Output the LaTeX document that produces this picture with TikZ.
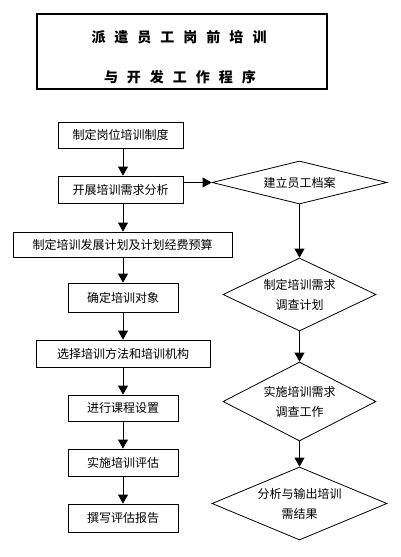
\documentclass[tikz,border=0pt]{standalone}
\usepackage{fontspec}
\setmainfont{Noto Sans CJK SC}
\usetikzlibrary{shapes.geometric,arrows.meta}
\newcommand\tsp{\hspace{9pt}}
\begin{document}
\begin{tikzpicture}[x=1pt,y=-1pt,
  line width=0.8pt,
  every node/.style={font=\fontsize{12}{20}\selectfont},
  stepbox/.style={draw,rectangle,inner sep=0pt},
  decide/.style={draw,diamond,inner sep=0pt,align=center},
  titletext/.style={font=\fontsize{14}{16}\selectfont\bfseries},
  flow/.style={-{Triangle[width=10pt,length=9pt]}}]
\useasboundingbox[fill=white] (0,0) rectangle (400,557);
% title
\node[draw,line width=1.1pt,minimum width=290pt,minimum height=75pt] (t) at (182,51.5) {};
\node[titletext] (t1) at (179,37) {派\tsp 遣\tsp 员\tsp 工\tsp 岗\tsp 前\tsp 培\tsp 训};
\node[titletext] (t2) at (180,77) {与\tsp 开\tsp 发\tsp 工\tsp 作\tsp 程\tsp 序};
% left column
\node[stepbox,minimum width=125pt,minimum height=26pt] (b1) at (120.5,135) {制定岗位培训制度};
\node[stepbox,minimum width=125pt,minimum height=27pt] (b2) at (120.5,189.5) {开展培训需求分析};
\node[stepbox,minimum width=219pt,minimum height=25pt] (b3) at (122.5,244.5) {制定培训发展计划及计划经费预算};
\node[stepbox,minimum width=110pt,minimum height=29pt] (b4) at (123,297.5) {确定培训对象};
\node[stepbox,minimum width=174pt,minimum height=27pt] (b5) at (123,353.5) {选择培训方法和培训机构};
\node[stepbox,minimum width=110pt,minimum height=26pt] (b6) at (123,408) {进行课程设置};
\node[stepbox,minimum width=110pt,minimum height=27pt] (b7) at (123,462.5) {实施培训评估};
\node[stepbox,minimum width=110pt,minimum height=28pt] (b8) at (123,518) {撰写评估报告};
% right column
\node[decide,aspect=4,minimum width=175pt,minimum height=43pt] (d1) at (299.5,182.5) {建立员工档案};
\node[decide,aspect=2.1,minimum width=153pt,minimum height=73pt] (d2) at (299.5,294.5) {制定培训需求\\调查计划};
\node[decide,aspect=2,minimum width=153pt,minimum height=79pt] (d3) at (299.5,401.5) {实施培训需求\\调查工作};
\node[decide,aspect=2.4,minimum width=175pt,minimum height=73pt] (d4) at (299.5,503.5) {分析与输出培训\\需结果};
% connectors
\draw[flow] (b1.south -| b4.center) -- (b2.north -| b4.center);
\draw[flow] (b2.south -| b4.center) -- (b3.north -| b4.center);
\draw[flow] (b3.south -| b4.center) -- (b4.north);
\draw[flow] (b4.south) -- (b5.north);
\draw[flow] (b5.south) -- (b6.north);
\draw[flow] (b6.south) -- (b7.north);
\draw[flow] (b7.south) -- (b8.north);
\draw[flow] (d1.west -| b2.east) -- (d1.west);
\draw[flow] (d1.south) -- (d2.north);
\draw[flow] (d2.south) -- (d3.north);
\draw[flow] (d3.south) -- (d4.north);
\end{tikzpicture}
\end{document}
